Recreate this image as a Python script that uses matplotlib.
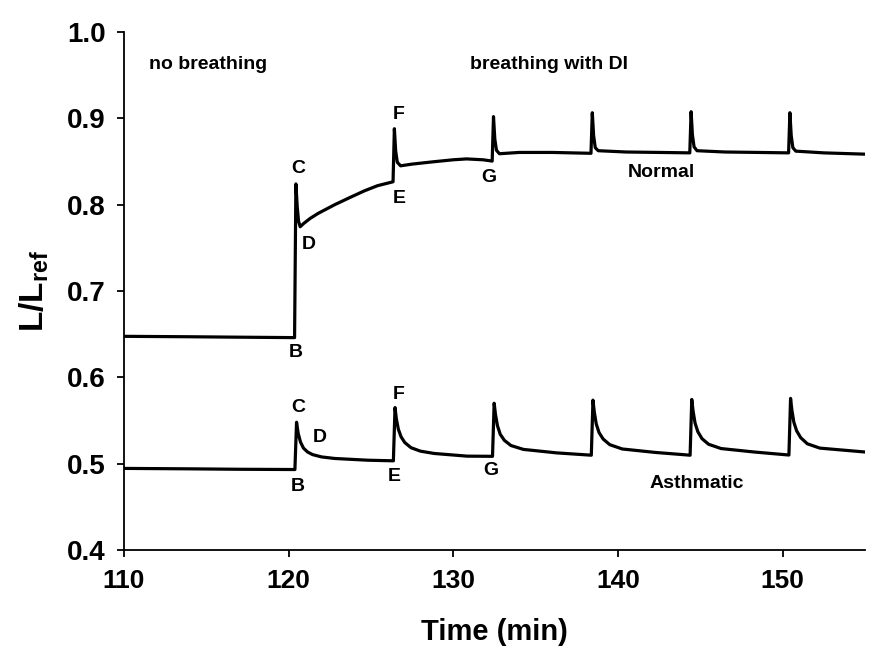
import matplotlib
matplotlib.use("Agg")
import matplotlib.pyplot as plt
from matplotlib import font_manager

plt.rcParams['font.family'] = ['Liberation Sans', 'DejaVu Sans']
plt.rcParams['font.weight'] = 'bold'
plt.rcParams['mathtext.fontset'] = 'custom'
plt.rcParams['mathtext.rm'] = 'Liberation Sans:bold'
plt.rcParams['mathtext.bf'] = 'Liberation Sans:bold'
plt.rcParams['mathtext.it'] = 'Liberation Sans:bold'

_names = {f.name for f in font_manager.fontManager.ttflist}
if 'Liberation Sans Narrow' in _names:
    narrow_family = ['Liberation Sans Narrow', 'Liberation Sans', 'DejaVu Sans']
    xtick_size, xlabel_size = 22, 25
else:
    narrow_family = ['Liberation Sans', 'DejaVu Sans']
    xtick_size, xlabel_size = 19, 21

# ---- data ----
normal_t = [110.0, 114.0, 117.0, 120.36, 120.44, 120.52, 120.60, 120.70, 120.90, 121.30,
            121.80, 122.80, 123.80, 124.60, 125.40, 126.34,
            126.42, 126.50, 126.60, 126.80, 127.50, 128.80, 130.00, 130.80, 131.80, 132.36,
            132.44, 132.52, 132.62, 132.80, 134.00, 136.00, 138.36,
            138.44, 138.52, 138.62, 138.80, 140.50, 142.50, 144.36,
            144.44, 144.52, 144.62, 144.80, 146.50, 148.50, 150.36,
            150.44, 150.52, 150.62, 150.80, 152.50, 155.0]
normal_y = [0.6475, 0.647, 0.6465, 0.6460, 0.824, 0.798, 0.781, 0.7744, 0.778, 0.784,
            0.790, 0.800, 0.809, 0.816, 0.822, 0.8265,
            0.888, 0.862, 0.849, 0.845, 0.847, 0.8497, 0.852, 0.853, 0.852, 0.8505,
            0.902, 0.876, 0.863, 0.859, 0.8605, 0.8605, 0.8595,
            0.9065, 0.880, 0.866, 0.8625, 0.861, 0.8605, 0.860,
            0.9077, 0.881, 0.867, 0.8625, 0.861, 0.8605, 0.860,
            0.9065, 0.880, 0.866, 0.862, 0.860, 0.8585]

asthma_t = [110.0, 114.0, 117.0, 120.38,
            120.48, 120.58, 120.72, 120.90, 121.15, 121.45, 122.00, 122.80, 124.80, 126.36,
            126.46, 126.54, 126.66, 126.83, 127.05, 127.43, 128.00, 128.84, 130.84, 132.38,
            132.48, 132.56, 132.68, 132.85, 133.10, 133.50, 134.26, 136.27, 138.38,
            138.48, 138.56, 138.68, 138.85, 139.10, 139.50, 140.26, 142.27, 144.38,
            144.48, 144.56, 144.68, 144.85, 145.10, 145.50, 146.26, 148.27, 150.38,
            150.48, 150.56, 150.68, 150.85, 151.10, 151.50, 152.26, 155.0]
asthma_y = [0.4945, 0.494, 0.4935, 0.4932,
            0.548, 0.535, 0.525, 0.518, 0.5135, 0.5105, 0.5078, 0.506, 0.504, 0.5033,
            0.565, 0.552, 0.540, 0.531, 0.5245, 0.5185, 0.5145, 0.5118, 0.5087, 0.5085,
            0.570, 0.557, 0.544, 0.534, 0.527, 0.521, 0.5165, 0.5125, 0.5098,
            0.5736, 0.560, 0.546, 0.536, 0.5285, 0.522, 0.517, 0.513, 0.5098,
            0.5744, 0.561, 0.547, 0.537, 0.529, 0.5225, 0.5175, 0.5135, 0.510,
            0.5756, 0.562, 0.548, 0.538, 0.530, 0.523, 0.518, 0.5135]

point_labels = ['C', 'D', 'B', 'E', 'F', 'G', 'C', 'D', 'B', 'E', 'F', 'G']
point_x = [120.6, 121.2, 120.44, 126.69, 126.67, 132.15, 120.6, 121.91, 120.56, 126.39, 126.67, 132.25]
point_y = [0.842, 0.754, 0.629, 0.807, 0.905, 0.832, 0.565, 0.530, 0.473, 0.485, 0.5805, 0.4925]

region_labels = ['no breathing', 'breathing with DI']
region_x = [111.5, 131.0]
region_y = [0.962, 0.962]

series_labels = ['Normal', 'Asthmatic']
series_x = [142.65, 144.76]
series_y = [0.837, 0.477]

x_ticks = [110, 120, 130, 140, 150]
y_ticks = [0.4, 0.5, 0.6, 0.7, 0.8, 0.9, 1.0]

# ---- figure ----
fig = plt.figure(figsize=(8.9, 6.64), dpi=100)
ax = fig.add_axes([0.1393, 0.1717, 0.8326, 0.7801])

ax.plot(normal_t, normal_y, color='black', lw=2.3, solid_joinstyle='round')
ax.plot(asthma_t, asthma_y, color='black', lw=2.3, solid_joinstyle='round')

ax.set_xlim(110, 155)
ax.set_ylim(0.4, 1.0)
ax.set_xticks(x_ticks)
ax.set_yticks(y_ticks)
ax.set_xticklabels([str(v) for v in x_ticks], family=narrow_family,
                   fontsize=xtick_size, fontweight='bold')
ax.set_yticklabels([f"{v:.1f}" for v in y_ticks], fontsize=20, fontweight='bold')

for s in ['top', 'right']:
    ax.spines[s].set_visible(False)
for s in ['left', 'bottom']:
    ax.spines[s].set_linewidth(1.3)
ax.tick_params(axis='both', direction='out', length=5, width=1.3)
ax.tick_params(axis='x', pad=9)
ax.tick_params(axis='y', pad=8)

ax.set_xlabel('Time (min)', fontsize=xlabel_size, fontweight='bold',
              family=narrow_family, labelpad=18)
ax.set_ylabel(r'$\mathbf{L/L}_{\mathbf{ref}}$', fontsize=24, labelpad=12)

for lab, x, y in zip(point_labels, point_x, point_y):
    ax.text(x, y, lab, fontsize=14, fontweight='bold', ha='center', va='center')

for lab, x, y in zip(region_labels, region_x, region_y):
    ax.text(x, y, lab, fontsize=14, fontweight='bold', ha='left', va='center')

for lab, x, y in zip(series_labels, series_x, series_y):
    ax.text(x, y, lab, fontsize=14, fontweight='bold', ha='center', va='center')

fig.savefig('out.png', dpi=100)
